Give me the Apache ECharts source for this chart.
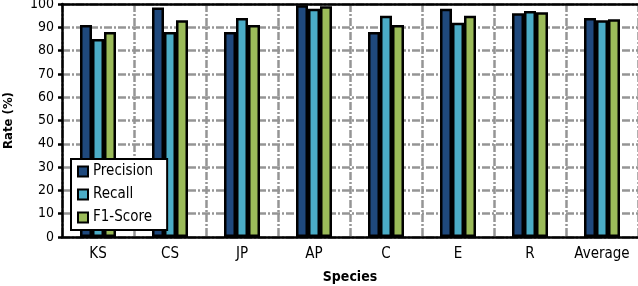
<!DOCTYPE html>
<html><head><meta charset="utf-8">
<script src="https://cdn.jsdelivr.net/npm/echarts@6/dist/echarts.min.js"></script>
<style>html,body{margin:0;padding:0;background:#fff}#c{width:638px;height:286px}</style>
</head><body><div id="c"></div>
<script>
const categories = ['KS','CS','JP','AP','C','E','R','Average'];
const precision = [91, 98.5, 88, 99.5, 88, 98, 96, 94];
const recall    = [85, 88, 94, 98, 95, 92, 97, 93];
const f1score   = [88, 93, 91, 99, 91, 95, 96.5, 93.5];
const seriesNames = ['Precision','Recall','F1-Score'];
const colors = ['#1F497D','#4BACC6','#9BBB59'];
const FONT = 'DejaVu Sans Condensed';
const chart = echarts.init(document.getElementById('c'), null, {renderer:'canvas'});
const gridLine = {show:true, interval:0, lineStyle:{color:'#959595', width:2.5, type:[8,2,2,2]}};
const mk = (name, data, i) => ({
  name, type:'bar', data, barWidth:12, barGap:'0%',
  itemStyle:{color:colors[i], borderColor:'#000', borderWidth:2.5},
  animation:false
});
chart.setOption({
  animation:false,
  textStyle:{fontFamily:FONT, color:'#000'},
  grid:{left:62, top:4, right:0, bottom:49, containLabel:false, outerBoundsMode:'none'},
  legend:{
    orient:'vertical', left:71, top:159,
    data:seriesNames, icon:'rect', itemWidth:10, itemHeight:10, itemGap:8,
    backgroundColor:'#fff', borderColor:'#000', borderWidth:2,
    padding:[5,14,5,6],
    itemStyle:{borderColor:'#000', borderWidth:2},
    textStyle:{fontFamily:FONT, fontSize:15, color:'#000'}
  },
  xAxis:[{
    type:'category', data:categories,
    axisLine:{lineStyle:{color:'#000', width:2.5}},
    axisTick:{show:false},
    axisLabel:{interval:0, fontFamily:FONT, fontSize:15, color:'#000', margin:10},
    splitLine:gridLine,
    name:'Species', nameLocation:'middle', nameGap:33,
    nameTextStyle:{fontFamily:FONT, fontSize:14, fontWeight:'bold', color:'#000'}
  },{
    type:'category', data:categories, position:'top',
    axisLine:{show:true, lineStyle:{color:'#000', width:2.5}},
    axisTick:{show:false}, axisLabel:{show:false}, splitLine:{show:false}
  }],
  yAxis:{
    type:'value', min:0, max:100, interval:10,
    axisLine:{show:true, lineStyle:{color:'#000', width:2.5}},
    axisTick:{show:true, length:4, lineStyle:{color:'#000', width:2.5}},
    axisLabel:{fontFamily:FONT, fontSize:14, color:'#000', margin:8},
    splitLine:gridLine,
    name:'Rate (%)', nameLocation:'middle', nameGap:47, nameRotate:90,
    nameTextStyle:{fontFamily:FONT, fontSize:13, fontWeight:'bold', color:'#000'}
  },
  series:[mk(seriesNames[0], precision, 0), mk(seriesNames[1], recall, 1), mk(seriesNames[2], f1score, 2)]
});
</script></body></html>
